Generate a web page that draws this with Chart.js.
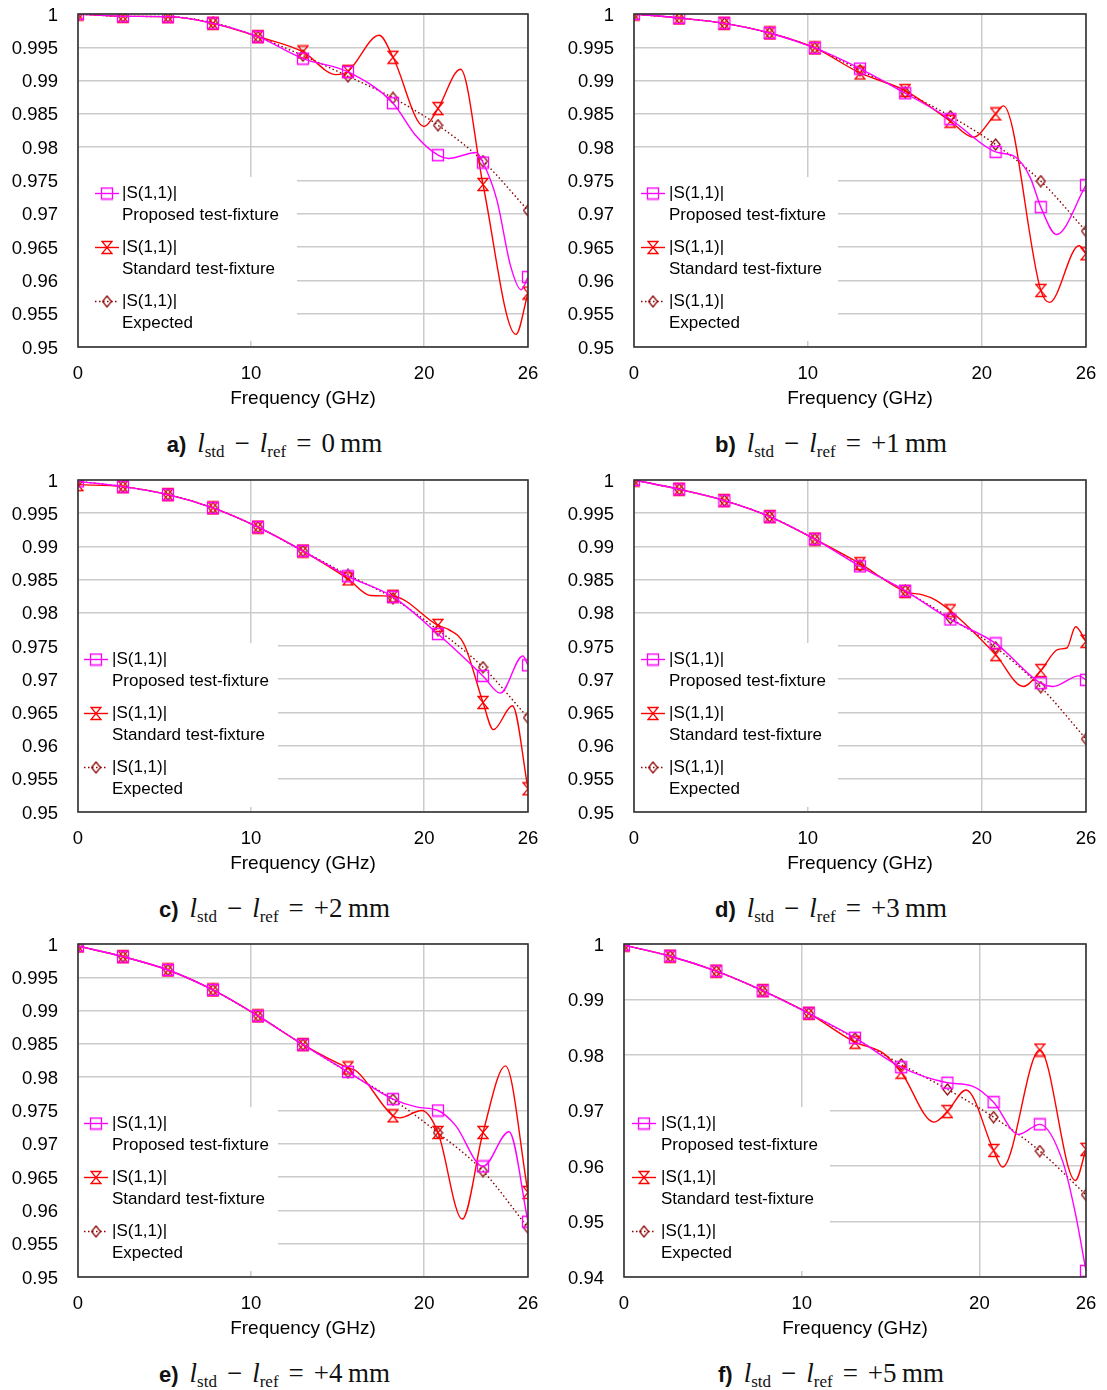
<!DOCTYPE html>
<html>
<head>
<meta charset="utf-8">
<script src="https://cdn.jsdelivr.net/npm/chart.js@4.4.1/dist/chart.umd.min.js"></script>
<style>
html, body { margin: 0; padding: 0; background: #fff; }
body { width: 1107px; height: 1390px; position: relative; overflow: hidden; }
canvas { position: absolute; }
.cap { position: absolute; text-align: center; font-family: 'Liberation Serif', 'DejaVu Serif', serif; font-size: 27px; line-height: 30px; color: #111; white-space: nowrap; }
.cap b { font-family: 'Liberation Sans', Arial, sans-serif; font-size: 22px; margin-right: 11px; }
.cap i { font-style: italic; }
.cap sub { font-size: 17px; vertical-align: -5px; line-height: 0; }
.cap .op { margin: 0 10px; }
</style>
</head>
<body>
<canvas id="cA" width="545" height="410" style="left:0px;top:0px"></canvas>
<canvas id="cB" width="552" height="410" style="left:555px;top:0px"></canvas>
<canvas id="cC" width="545" height="409" style="left:0px;top:466px"></canvas>
<canvas id="cD" width="552" height="409" style="left:555px;top:466px"></canvas>
<canvas id="cE" width="545" height="410" style="left:0px;top:930px"></canvas>
<canvas id="cF" width="552" height="410" style="left:555px;top:930px"></canvas>

<div class="cap" style="left:2px;top:428px;width:545px"><b>a)</b><i>l</i><sub>std</sub><span class="op">−</span><i>l</i><sub>ref</sub><span class="op">=</span>0&#8201;mm</div>
<div class="cap" style="left:555px;top:428px;width:552px"><b>b)</b><i>l</i><sub>std</sub><span class="op">−</span><i>l</i><sub>ref</sub><span class="op">=</span>+1&#8201;mm</div>
<div class="cap" style="left:2px;top:893px;width:545px"><b>c)</b><i>l</i><sub>std</sub><span class="op">−</span><i>l</i><sub>ref</sub><span class="op">=</span>+2&#8201;mm</div>
<div class="cap" style="left:555px;top:893px;width:552px"><b>d)</b><i>l</i><sub>std</sub><span class="op">−</span><i>l</i><sub>ref</sub><span class="op">=</span>+3&#8201;mm</div>
<div class="cap" style="left:2px;top:1358px;width:545px"><b>e)</b><i>l</i><sub>std</sub><span class="op">−</span><i>l</i><sub>ref</sub><span class="op">=</span>+4&#8201;mm</div>
<div class="cap" style="left:555px;top:1358px;width:552px"><b>f)</b><i>l</i><sub>std</sub><span class="op">−</span><i>l</i><sub>ref</sub><span class="op">=</span>+5&#8201;mm</div>

<script>
// Frequencies (GHz) where the marker symbols sit
const MARKER_FREQ = [0, 2.6, 5.2, 7.8, 10.4, 13, 15.6, 18.2, 20.8, 23.4, 26];
const X_TICKS = [0, 10, 20, 26];
const Y_TICKS = [0.95, 0.955, 0.96, 0.965, 0.97, 0.975, 0.98, 0.985, 0.99, 0.995, 1];
const Y_TICKS_F = [0.94, 0.95, 0.96, 0.97, 0.98, 0.99, 1];
const LEGEND_HEAD = '|S(1,1)|';
const SERIES_NAMES = ['Proposed test-fixture', 'Standard test-fixture', 'Expected'];
const X_TITLE = 'Frequency (GHz)';

// a) l_std - l_ref = 0 mm
const expA = [1.0, 0.99965, 0.9996, 0.9987, 0.99655, 0.99375, 0.99065, 0.9874, 0.9833, 0.9779, 0.9705];
const propA_f = [0, 2.6, 5.2, 7.8, 10.4, 13, 15.6, 18.2, 19.5, 20.8, 21.4, 23.0, 23.4, 24.2, 25.0, 25.6, 26];
const propA_v = [1.0, 0.99965, 0.9996, 0.9986, 0.9966, 0.9933, 0.9913, 0.9866, 0.9818, 0.9788, 0.9783, 0.9792, 0.9777, 0.9721, 0.9621, 0.9586, 0.9605];
const stdA_f = [0, 2.6, 5.2, 7.8, 10.4, 13, 14.9, 15.6, 17.4, 18.2, 20.0, 20.8, 22.1, 23.4, 25.3, 26];
const stdA_v = [1.0, 0.99965, 0.9996, 0.9986, 0.9966, 0.9943, 0.9909, 0.9914, 0.9968, 0.9935, 0.9831, 0.9858, 0.9917, 0.9744, 0.9519, 0.9581];

// b) +1 mm
const expB = [1.0, 0.9994, 0.9986, 0.99715, 0.9949, 0.99155, 0.98825, 0.98465, 0.9804, 0.9749, 0.9674];
const propB_f = [0, 2.6, 5.2, 7.8, 10.4, 13, 15.6, 18.2, 20.8, 21.9, 22.8, 23.4, 24.3, 26];
const propB_v = [1.0, 0.9994, 0.9986, 0.99715, 0.9949, 0.9918, 0.9881, 0.9842, 0.9793, 0.9786, 0.9754, 0.971, 0.9669, 0.9743];
const stdB_f = [0, 2.6, 5.2, 7.8, 10.4, 13, 15.6, 18.2, 19.5, 20.8, 21.25, 23.4, 23.9, 25.6, 26];
const stdB_v = [1.0, 0.9994, 0.9986, 0.99715, 0.9949, 0.99115, 0.9885, 0.9839, 0.9815, 0.985, 0.9862, 0.9585, 0.9567, 0.9652, 0.964];

// c) +2 mm
const expC = [0.9998, 0.999, 0.9978, 0.9958, 0.9929, 0.9893, 0.9857, 0.9822, 0.9774, 0.9718, 0.9642];
const propC_f = [0, 2.6, 5.2, 7.8, 10.4, 13, 15.6, 18.2, 20.8, 23.4, 24.4, 25.7, 26];
const propC_v = [0.9998, 0.999, 0.9978, 0.9958, 0.9929, 0.9893, 0.9855, 0.9824, 0.9768, 0.9705, 0.9679, 0.9735, 0.9721];
const stdC_f = [0, 2.6, 5.2, 7.8, 10.4, 13, 15.6, 16.9, 18.2, 20.8, 21.4, 22.3, 23.4, 24.0, 25.1, 26];
const stdC_v = [0.9993, 0.999, 0.9978, 0.9958, 0.9929, 0.9893, 0.9851, 0.9826, 0.9825, 0.9781, 0.9775, 0.9753, 0.9665, 0.9624, 0.966, 0.9535];

// d) +3 mm
const expD = [1.0, 0.9986, 0.9969, 0.9945, 0.9911, 0.9871, 0.9833, 0.9792, 0.9748, 0.9688, 0.961];
const propD_f = [0, 2.6, 5.2, 7.8, 10.4, 13, 15.6, 18.2, 20.8, 23.4, 24.1, 25.6, 26];
const propD_v = [1.0, 0.9986, 0.9969, 0.9945, 0.9911, 0.987, 0.9833, 0.979, 0.9754, 0.9694, 0.9689, 0.9705, 0.9699];
const stdD_f = [0, 2.6, 5.2, 7.8, 10.4, 13, 15.6, 16.6, 17.3, 18.2, 20.8, 22.4, 23.4, 24.4, 24.9, 25.4, 26];
const stdD_v = [1.0, 0.9986, 0.9969, 0.9945, 0.9911, 0.9874, 0.9832, 0.9827, 0.982, 0.9803, 0.9737, 0.9689, 0.9713, 0.9745, 0.9747, 0.9779, 0.9757];

// e) +4 mm
const expE = [0.9997, 0.9981, 0.9961, 0.9931, 0.9892, 0.9849, 0.98075, 0.97665, 0.97165, 0.9659, 0.9574];
const propE_f = [0, 2.6, 5.2, 7.8, 10.4, 13, 15.6, 18.2, 19.6, 20.8, 21.8, 23.4, 24.9, 26];
const propE_v = [0.9997, 0.9981, 0.9961, 0.9931, 0.9892, 0.9849, 0.9808, 0.9767, 0.9755, 0.975, 0.9728, 0.9666, 0.9718, 0.9583];
const stdE_f = [0, 2.6, 5.2, 7.8, 10.4, 13, 15.6, 16.1, 18.2, 18.6, 19.85, 20.8, 22.2, 23.4, 24.7, 26];
const stdE_v = [0.9997, 0.9981, 0.9961, 0.9931, 0.9892, 0.9849, 0.9814, 0.9809, 0.9742, 0.9739, 0.975, 0.9717, 0.9587, 0.9717, 0.9817, 0.9627];

// f) +5 mm
const expF = [0.9998, 0.9978, 0.9951, 0.99157, 0.9875, 0.983, 0.9783, 0.9738, 0.9688, 0.9627, 0.9548];
const propF_f = [0, 2.6, 5.2, 7.8, 10.4, 13, 15.6, 18.2, 19.6, 20.8, 22.2, 23.4, 24.7, 25.4, 26];
const propF_v = [0.9998, 0.9978, 0.9951, 0.9916, 0.9875, 0.9831, 0.9778, 0.975, 0.9744, 0.9715, 0.9657, 0.9675, 0.9607, 0.9515, 0.9411];
const stdF_f = [0, 2.6, 5.2, 7.8, 10.4, 13, 14.6, 15.6, 17.45, 18.2, 19.25, 20.8, 21.3, 23.4, 25.4, 26];
const stdF_v = [0.9998, 0.9978, 0.9951, 0.9916, 0.9875, 0.9823, 0.9803, 0.9769, 0.9679, 0.9698, 0.9737, 0.9628, 0.9598, 0.9809, 0.9574, 0.963];

// ---- styling ----
const PINK = '#ff00ff';
const RED = '#ff0000';
const MAROON = '#8b0000';
const GRID = '#cbcbcb';
const FRAME = '#333333';
const FONT = "'Liberation Sans', Arial, sans-serif";
const AREA_TOP = 14;       // plot area offset from canvas top
const X_AXIS_H = 63;       // room below the plot area for ticks and title

function markerCanvas(w, h, color, lw, drawPath) {
  const c = document.createElement('canvas');
  c.width = w; c.height = h;
  const g = c.getContext('2d');
  g.strokeStyle = color;
  g.lineWidth = lw;
  g.beginPath();
  drawPath(g, w, h);
  g.stroke();
  return c;
}
const SQUARE = markerCanvas(14, 14, PINK, 1.3, (g, w, h) => { g.rect(1.5, 1.5, w - 3, h - 3); });
const HOURGLASS = markerCanvas(12, 15, RED, 1.3, (g, w, h) => {
  g.moveTo(1, 1.5); g.lineTo(w - 1, 1.5); g.lineTo(1, h - 1.5); g.lineTo(w - 1, h - 1.5); g.closePath();
});
const DIAMOND = markerCanvas(11, 13, MAROON, 1.2, (g, w, h) => {
  g.moveTo(w / 2, 1); g.lineTo(w - 1, h / 2); g.lineTo(w / 2, h - 1); g.lineTo(1, h / 2); g.closePath();
});

const zip = (f, v) => f.map((x, i) => ({ x, y: v[i] }));
const markerRadius = ctx => (ctx.raw && MARKER_FREQ.includes(ctx.raw.x)) ? 5 : 0;

// White inset legend box inside the plot area
const insetLegend = {
  id: 'insetLegend',
  beforeDatasetsDraw(chart, args, o) {
    const { ctx, chartArea: a } = chart;
    ctx.save();
    ctx.fillStyle = '#fff';
    ctx.fillRect(a.left + 1, a.top + 163, o.boxR - 1, 164);
    const styles = [
      { color: PINK, dash: [], img: SQUARE },
      { color: RED, dash: [], img: HOURGLASS },
      { color: MAROON, dash: [1.5, 2.5], img: DIAMOND }
    ];
    ctx.font = '17px ' + FONT;
    ctx.textBaseline = 'middle';
    ctx.fillStyle = '#000';
    styles.forEach((s, i) => {
      const y = a.top + 179.5 + i * 54;
      const x0 = a.left + o.x0;
      ctx.save();
      ctx.strokeStyle = s.color;
      ctx.lineWidth = 1.4;
      ctx.setLineDash(s.dash);
      ctx.beginPath();
      ctx.moveTo(x0, y); ctx.lineTo(x0 + 24, y);
      ctx.stroke();
      ctx.restore();
      ctx.drawImage(s.img, x0 + 12 - s.img.width / 2, y - s.img.height / 2);
      ctx.fillText(LEGEND_HEAD, a.left + o.tx, y);
      ctx.fillText(SERIES_NAMES[i], a.left + o.tx, y + 22);
    });
    ctx.restore();
  }
};

// Closed frame around the plot area
const frame = {
  id: 'frame',
  afterDraw(chart) {
    const { ctx, chartArea: a } = chart;
    ctx.save();
    ctx.strokeStyle = FRAME;
    ctx.lineWidth = 1.6;
    ctx.strokeRect(a.left, a.top, a.right - a.left, a.bottom - a.top);
    ctx.restore();
  }
};

const panels = [
  { id: 'cA', exp: expA, pf: propA_f, pv: propA_v, sf: stdA_f, sv: stdA_v, yTicks: Y_TICKS, yW: 78, padR: 17, leg: { x0: 17, tx: 44, boxR: 219 } },
  { id: 'cB', exp: expB, pf: propB_f, pv: propB_v, sf: stdB_f, sv: stdB_v, yTicks: Y_TICKS, yW: 79, padR: 21, leg: { x0: 7, tx: 35, boxR: 204 } },
  { id: 'cC', exp: expC, pf: propC_f, pv: propC_v, sf: stdC_f, sv: stdC_v, yTicks: Y_TICKS, yW: 78, padR: 17, leg: { x0: 6, tx: 34, boxR: 200 } },
  { id: 'cD', exp: expD, pf: propD_f, pv: propD_v, sf: stdD_f, sv: stdD_v, yTicks: Y_TICKS, yW: 79, padR: 21, leg: { x0: 7, tx: 35, boxR: 204 } },
  { id: 'cE', exp: expE, pf: propE_f, pv: propE_v, sf: stdE_f, sv: stdE_v, yTicks: Y_TICKS, yW: 78, padR: 17, leg: { x0: 6, tx: 34, boxR: 200 } },
  { id: 'cF', exp: expF, pf: propF_f, pv: propF_v, sf: stdF_f, sv: stdF_v, yTicks: Y_TICKS_F, yW: 69, padR: 21, leg: { x0: 8, tx: 37, boxR: 206 } }
];

function build(p) {
  const yMin = p.yTicks[0], yMax = p.yTicks[p.yTicks.length - 1];
  const common = { fill: false, borderWidth: 1.4, cubicInterpolationMode: 'monotone', clip: 0 };
  new Chart(document.getElementById(p.id), {
    type: 'line',
    data: {
      datasets: [
        Object.assign({ label: SERIES_NAMES[0], data: zip(p.pf, p.pv), borderColor: PINK, pointStyle: SQUARE, pointRadius: markerRadius }, common),
        Object.assign({ label: SERIES_NAMES[1], data: zip(p.sf, p.sv), borderColor: RED, pointStyle: HOURGLASS, pointRadius: markerRadius }, common),
        Object.assign({ label: SERIES_NAMES[2], data: zip(MARKER_FREQ, p.exp), borderColor: MAROON, borderDash: [1.5, 2.5], pointStyle: DIAMOND, pointRadius: 5 }, common)
      ]
    },
    options: {
      responsive: false,
      animation: false,
      events: [],
      layout: { padding: { top: AREA_TOP, right: p.padR, bottom: 0, left: 0 } },
      plugins: { legend: { display: false }, tooltip: { enabled: false }, insetLegend: p.leg },
      scales: {
        x: {
          type: 'linear', min: 0, max: 26,
          afterBuildTicks: s => { s.ticks = X_TICKS.map(v => ({ value: v })); },
          afterFit: s => { s.height = X_AXIS_H; s.paddingLeft = 0; s.paddingRight = 0; },
          grid: { color: GRID, lineWidth: 1.5, drawTicks: false },
          border: { display: false },
          ticks: { padding: 16, color: '#000', font: { family: FONT, size: 18.5 }, maxRotation: 0, autoSkip: false, callback: v => String(v) },
          title: { display: true, text: X_TITLE, color: '#000', font: { family: FONT, size: 19 }, padding: { top: 0, bottom: 0 } }
        },
        y: {
          type: 'linear', min: yMin, max: yMax,
          afterBuildTicks: s => { s.ticks = p.yTicks.map(v => ({ value: v })); },
          afterFit: s => { s.width = p.yW; s.paddingTop = 0; s.paddingBottom = 0; },
          grid: { color: GRID, lineWidth: 1.5, drawTicks: false },
          border: { display: false },
          ticks: { padding: 20, labelOffset: 1.5, color: '#000', font: { family: FONT, size: 18.5 }, autoSkip: false, callback: v => String(parseFloat(Number(v).toFixed(3))) }
        }
      }
    },
    plugins: [insetLegend, frame]
  });
}

panels.forEach(build);
</script>
</body>
</html>
